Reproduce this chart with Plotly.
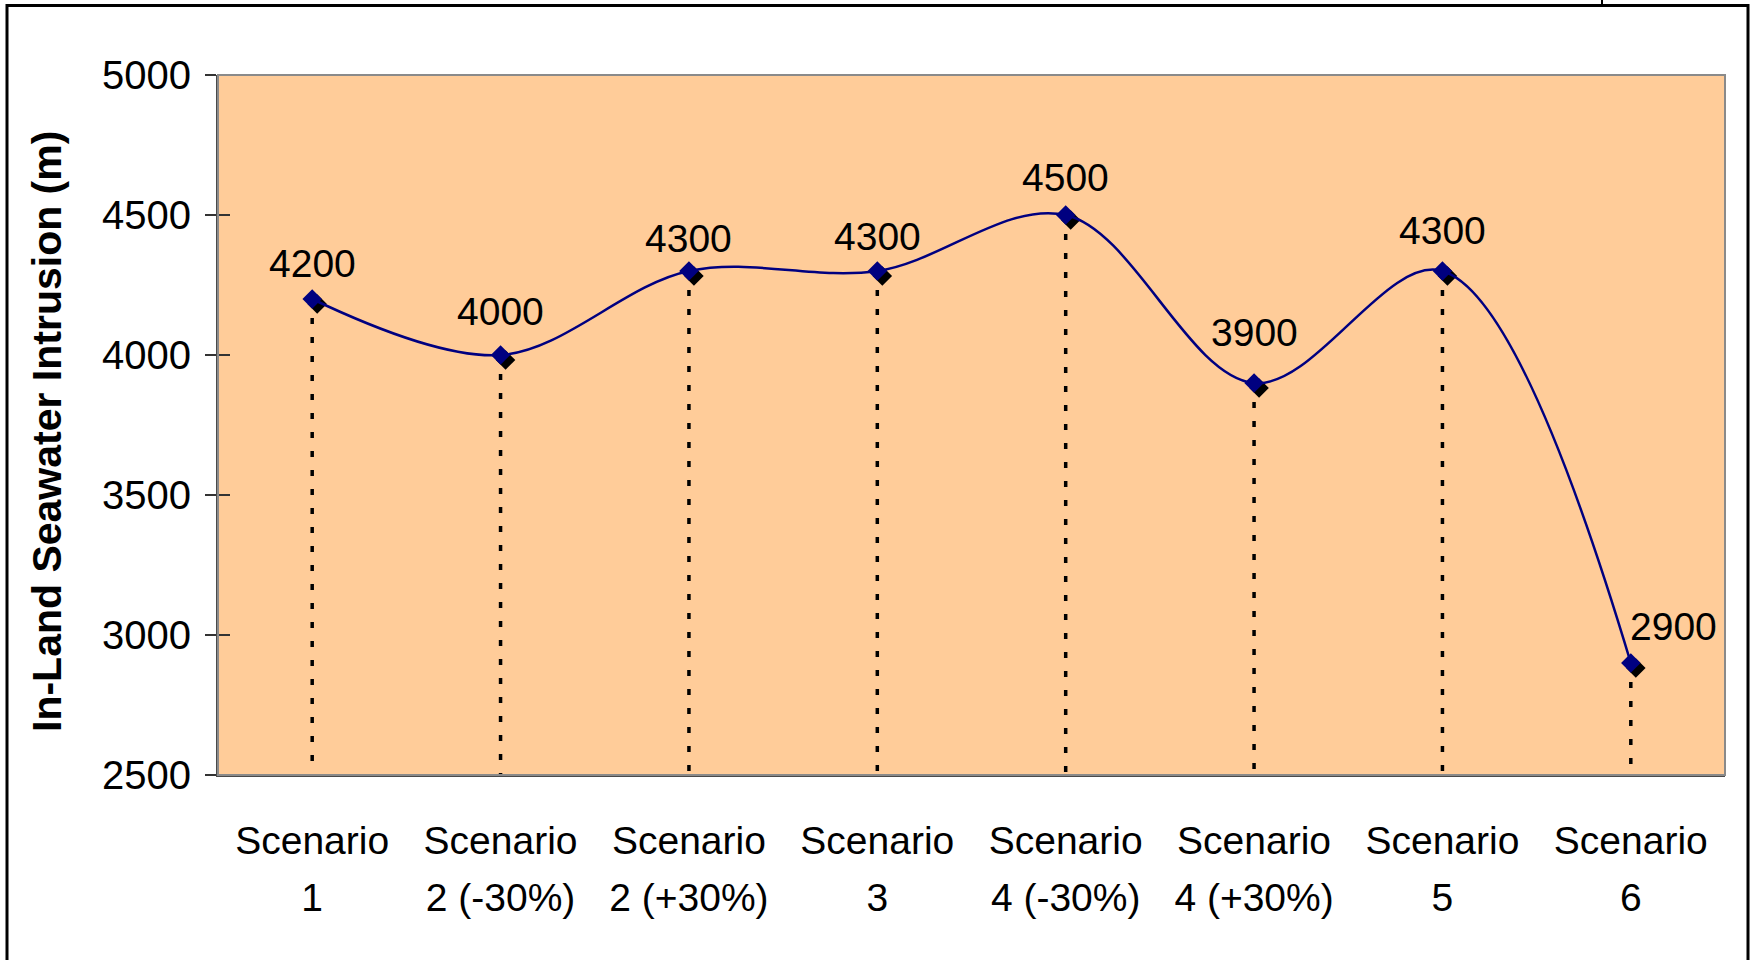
import plotly.graph_objects as go

# Scenario results: in-land seawater intrusion distance (m)
scenario_word = ["Scenario"] * 8
scenario_case = ["1", "2 (-30%)", "2 (+30%)", "3", "4 (-30%)", "4 (+30%)", "5", "6"]
intrusion_m = [4200, 4000, 4300, 4300, 4500, 3900, 4300, 2900]
y_ticks = [2500, 3000, 3500, 4000, 4500, 5000]

# label placement (pixel offsets from each marker)
label_dx = [0, 0, 0, 0, 0, 0, 0, 43]
label_dy = [36, 44, 33, 35, 38, 51, 41, 37]

W, H = 1754, 960
L, R, T, B = 218, 29, 75, 185
plot_w = W - L - R
plot_h = H - T - B

FONT = "Liberation Sans, Arial, sans-serif"
NAVY = "#000080"
BG = "#FFCC99"

x_idx = list(range(len(scenario_case)))
y_min, y_max = y_ticks[0], y_ticks[-1]
x_lo, x_hi = -0.5, len(scenario_case) - 0.5

# shadow offset expressed by shifting the overlay axis ranges
shadow_px = 5
dx_units = shadow_px * (x_hi - x_lo) / plot_w
dy_units = shadow_px * (y_max - y_min) / plot_h

fig = go.Figure()

# vertical drop lines from each point to the axis floor
drop_x, drop_y = [], []
for xi, v in zip(x_idx, intrusion_m):
    drop_x += [xi, xi, None]
    drop_y += [v, y_min, None]
fig.add_trace(go.Scatter(
    x=drop_x, y=drop_y, mode="lines",
    line=dict(color="black", width=3.5, dash="6px,13px"),
    hoverinfo="skip", showlegend=False,
))

# dummy trace to display the inner tick axis
fig.add_trace(go.Scatter(x=[None], y=[None], yaxis="y2", showlegend=False,
                         hoverinfo="skip"))

# marker shadows on shifted overlay axes
fig.add_trace(go.Scatter(
    x=x_idx, y=intrusion_m, mode="markers",
    marker=dict(symbol="diamond", size=15, color="black", line=dict(width=0)),
    xaxis="x3", yaxis="y3", hoverinfo="skip", showlegend=False,
))

# smoothed series line (drawn above the shadows)
fig.add_trace(go.Scatter(
    x=x_idx, y=intrusion_m, mode="lines",
    line=dict(color=NAVY, width=2.5, shape="spline", smoothing=1.0),
    xaxis="x4", yaxis="y4", showlegend=False,
))

# diamond markers
fig.add_trace(go.Scatter(
    x=x_idx, y=intrusion_m, mode="markers",
    marker=dict(symbol="diamond", size=15, color=NAVY, line=dict(width=0)),
    xaxis="x4", yaxis="y4", showlegend=False,
))

# second line of category labels
fig.add_trace(go.Scatter(x=[None], y=[None], xaxis="x5", showlegend=False,
                         hoverinfo="skip"))

# value labels
annotations = []
for xi, v, ox, oy in zip(x_idx, intrusion_m, label_dx, label_dy):
    annotations.append(dict(
        x=xi, y=v, xref="x", yref="y", text=str(v), showarrow=False,
        xanchor="center", yanchor="middle", xshift=ox, yshift=oy,
        font=dict(family=FONT, size=39, color="black"),
    ))

# y-axis title
annotations.append(dict(
    x=0, y=0.5, xref="paper", yref="paper", xanchor="center", yanchor="middle",
    xshift=-(L - 47), yshift=-7,
    text="<b>In-Land Seawater Intrusion (m)</b>", textangle=-90, showarrow=False,
    font=dict(family=FONT, size=41, color="black"),
))

shapes = [
    # plot frame (top/right in light grey)
    dict(type="rect", xref="paper", yref="paper", x0=0, x1=1, y0=0, y1=1,
         line=dict(color="#8a8a8a", width=2), layer="above"),
    # outer chart border
    dict(type="rect", xref="paper", yref="paper",
         xsizemode="pixel", ysizemode="pixel", xanchor=0, yanchor=1,
         x0=-(L - 7), x1=(W - 6) - L, y0=T - 5.5, y1=-(H + 50),
         line=dict(color="black", width=3), layer="above"),
    # small tick on the top edge
    dict(type="line", xref="paper", yref="paper",
         xsizemode="pixel", ysizemode="pixel", xanchor=0, yanchor=1,
         x0=1602 - L, x1=1602 - L, y0=T + 2, y1=T - 5,
         line=dict(color="black", width=2), layer="above"),
]

axis_common = dict(showgrid=False, zeroline=False)
cat_font = dict(family=FONT, size=39, color="black")

fig.update_layout(
    width=W, height=H,
    margin=dict(l=L, r=R, t=T, b=B, pad=0),
    paper_bgcolor="white",
    plot_bgcolor=BG,
    font=dict(family=FONT, size=38, color="black"),
    annotations=annotations,
    shapes=shapes,
    xaxis=dict(
        range=[x_lo, x_hi], tickmode="array", tickvals=x_idx, ticktext=scenario_word,
        showline=True, linecolor="#4a4a4a", linewidth=2, ticks="",
        tickfont=cat_font, ticklabelstandoff=30, **axis_common,
    ),
    xaxis5=dict(
        range=[x_lo, x_hi], tickmode="array", tickvals=x_idx, ticktext=scenario_case,
        overlaying="x", side="bottom", showline=False, ticks="",
        tickfont=cat_font, ticklabelstandoff=96, **axis_common,
    ),
    yaxis=dict(
        range=[y_min, y_max], tickmode="array", tickvals=y_ticks,
        ticktext=[str(t) for t in y_ticks],
        showline=True, linecolor="#4a4a4a", linewidth=2,
        ticks="outside", ticklen=11, tickwidth=1.5, tickcolor="#333333",
        tickfont=dict(family=FONT, size=40, color="black"),
        ticklabelstandoff=6, **axis_common,
    ),
    # inner half of the crossing y ticks
    yaxis2=dict(
        range=[y_min, y_max], tickmode="array", tickvals=y_ticks,
        overlaying="y", side="left", showticklabels=False,
        ticks="inside", ticklen=12, tickwidth=1.5, tickcolor="#333333",
        showline=False, **axis_common,
    ),
    xaxis3=dict(range=[x_lo - dx_units, x_hi - dx_units], overlaying="x",
                visible=False, **axis_common),
    yaxis3=dict(range=[y_min + dy_units, y_max + dy_units], overlaying="y",
                visible=False, **axis_common),
    xaxis4=dict(range=[x_lo, x_hi], overlaying="x", visible=False, **axis_common),
    yaxis4=dict(range=[y_min, y_max], overlaying="y", visible=False, **axis_common),
)

fig.write_html("out.html")
